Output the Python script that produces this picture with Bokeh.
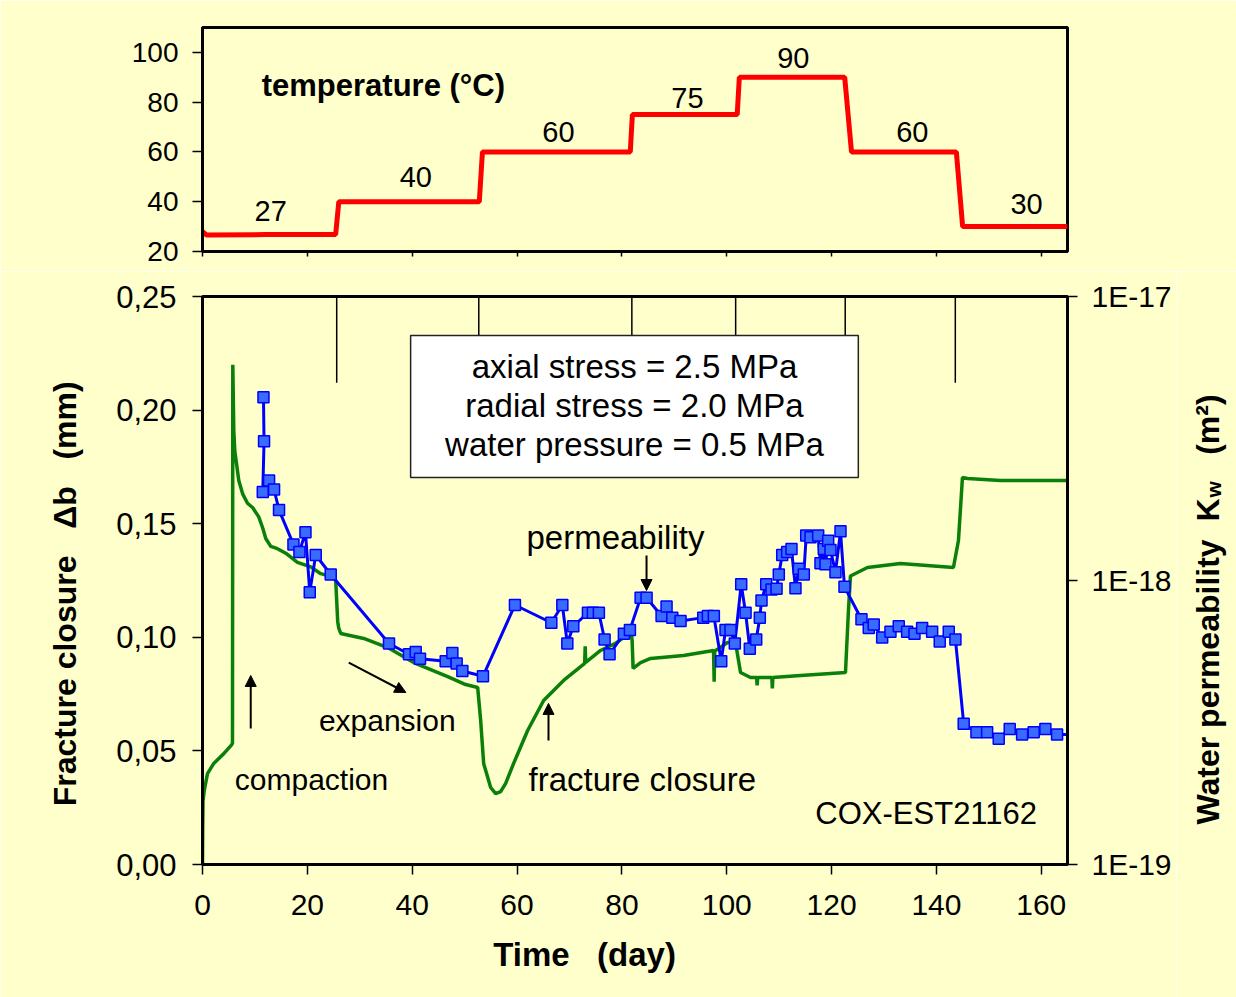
import math
from bokeh.plotting import figure
from bokeh.layouts import column, row
from bokeh.models import (Range1d, LogScale, LogAxis, FixedTicker, CustomJSTickFormatter,
                          Label, Arrow, NormalHead, BoxAnnotation)
from bokeh.embed import file_html
from bokeh.resources import INLINE

# ---------------- data ----------------
# temperature history (day, deg C)
temp_day = [0, 0.8, 12, 25.4, 26.0, 52.8, 53.4, 81.6, 82.0, 102.0, 102.4, 122.5, 123.8, 143.8, 145.0, 165]
temp_c = [28, 26.6, 26.8, 26.8, 40, 40, 60, 60, 75, 75, 90, 90, 60, 60, 30, 30]
temp_labels = ["27", "40", "60", "75", "90", "60", "30"]
temp_change_days = [25.6, 52.7, 81.9, 101.7, 122.6, 143.6]

# fracture closure (day, mm)
closure_day = [0, 0.04, 0.1, 0.34, 0.95, 2.15, 4.06, 5.59, 5.72, 5.78, 5.97, 6.16, 6.92, 7.68, 8.58,
               9.59, 10.73, 11.50, 12.07, 13.02, 14.30, 15.88, 18.11, 20.65, 22.55, 24.46, 25.41,
               25.79, 25.99, 26.37, 30.75, 35.33, 40.28, 46.77, 50.20, 52.49, 53.06, 53.63, 54.97,
               55.92, 56.87, 57.83, 59.35, 62.02, 65.07, 68.88, 72.9, 73.0, 73.1, 75.93, 78.79,
               80.32, 81.65, 81.95, 82.14, 83.57, 85.47, 91.76, 97.48, 97.6, 97.7, 98.43, 100.15,
               101.67, 102.63, 104.53, 105.7, 105.8, 105.9, 108.6, 108.7, 108.8, 114.07, 122.65,
               123.22, 123.60, 126.84, 133.13, 143.24, 144.20, 144.96, 145.92, 152.21, 165]
closure_mm = [0, 0.015, 0.028, 0.0326, 0.040, 0.0445, 0.0488, 0.0528, 0.0535, 0.220, 0.191, 0.182,
              0.169, 0.163, 0.159, 0.157, 0.153, 0.148, 0.1435, 0.140, 0.139, 0.137, 0.133, 0.131,
              0.128, 0.1268, 0.125, 0.107, 0.104, 0.1017, 0.0995, 0.0955, 0.0889, 0.0827, 0.0792,
              0.0779, 0.0634, 0.0445, 0.0339, 0.0312, 0.0321, 0.0357, 0.0445, 0.059, 0.0722, 0.081,
              0.0885, 0.096, 0.089, 0.0942, 0.0973, 0.0999, 0.105, 0.0986, 0.0863, 0.0889, 0.0907,
              0.092, 0.0942, 0.0805, 0.094, 0.095, 0.0977, 0.0977, 0.0845, 0.0823, 0.0823, 0.0788,
              0.0823, 0.0823, 0.0775, 0.0823, 0.0832, 0.0845, 0.112, 0.127, 0.1307, 0.1325, 0.1307,
              0.1426, 0.1703, 0.1699, 0.169, 0.169]

# water permeability (day, K in units of 1e-18 m2)
perm_day = [11.63, 11.74, 11.50, 12.70, 13.65, 14.60, 17.35, 18.49, 19.64, 20.46, 21.60, 24.46,
            35.58, 39.39, 40.67, 41.49, 46.39, 47.66, 48.48, 49.57, 53.50, 59.60, 66.54, 68.64,
            69.59, 70.73, 73.52, 74.47, 75.61, 76.70, 77.65, 80.38, 81.53, 83.57, 84.71, 87.57,
            88.52, 89.61, 91.19, 95.52, 96.40, 97.54, 98.95, 99.77, 100.72, 101.54, 102.76, 103.59,
            104.40, 105.62, 106.31, 106.63, 107.53, 108.54, 109.50, 109.93, 110.58, 111.53, 112.35,
            113.11, 113.75, 114.70, 115.16, 115.98, 117.44, 117.88, 118.51, 118.84, 119.35, 119.79,
            120.74, 121.70, 122.46, 125.70, 127.09, 128.04, 129.65, 131.23, 132.81, 134.41, 135.81,
            137.27, 139.18, 140.63, 142.35, 143.62, 145.20, 147.63, 149.67, 151.88, 153.98, 156.34,
            158.55, 160.78, 163.01, 166.0]
perm_e18 = [4.42, 3.09, 2.05, 2.25, 2.09, 1.77, 1.34, 1.26, 1.48, 0.91, 1.23, 1.05,
            0.60, 0.55, 0.56, 0.53, 0.52, 0.555, 0.51, 0.48, 0.46, 0.82, 0.71, 0.82,
            0.60, 0.69, 0.77, 0.77, 0.77, 0.62, 0.55, 0.65, 0.67, 0.87, 0.87, 0.75,
            0.81, 0.74, 0.72, 0.74, 0.75, 0.75, 0.52, 0.67, 0.67, 0.60, 0.97, 0.77,
            0.575, 0.62, 0.74, 0.85, 0.97, 0.93, 0.935, 1.05, 1.23, 1.26, 1.29,
            0.94, 1.10, 1.05, 1.44, 1.42, 1.44, 1.15, 1.29, 1.14, 1.38, 1.28,
            1.07, 1.49, 0.95, 0.73, 0.68, 0.70, 0.63, 0.66, 0.69, 0.66, 0.65,
            0.68, 0.66, 0.61, 0.66, 0.62, 0.313, 0.292, 0.292, 0.277, 0.300, 0.287,
            0.292, 0.300, 0.287, 0.287]
perm = [v * 1e-18 for v in perm_e18]

x_ticks = [0, 20, 40, 60, 80, 100, 120, 140, 160]

# ---------------- style ----------------
BG = "#FFFFCC"
FONT = "Liberation Sans"
NB = "\u00a0"


def style_axis(ax, out=10, standoff=15, size="28px", label_size="32px"):
    ax.major_label_text_font = FONT
    ax.major_label_text_font_size = size
    ax.major_label_text_color = "black"
    ax.major_label_standoff = standoff
    ax.axis_line_width = 3
    ax.axis_line_color = "black"
    ax.major_tick_line_width = 1.5
    ax.major_tick_line_color = "black"
    ax.major_tick_in = 0
    ax.major_tick_out = out
    ax.minor_tick_line_color = None
    ax.axis_label_text_font = FONT
    ax.axis_label_text_font_style = "bold"
    ax.axis_label_text_font_size = label_size
    ax.axis_label_text_color = "black"


# ---------------- top panel: temperature ----------------
top = figure(frame_width=865, frame_height=224, min_border_left=202, min_border_right=169,
             min_border_top=27, min_border_bottom=20,
             x_range=Range1d(0, 165), y_range=Range1d(20, 110),
             output_backend="svg", toolbar_location=None,
             background_fill_color=BG, border_fill_color=BG,
             outline_line_color="black", outline_line_width=3)
top.grid.visible = False
top.xaxis.ticker = FixedTicker(ticks=x_ticks)
style_axis(top.xaxis[0], out=5, standoff=0, size="1px")
top.xaxis.major_label_text_color = None
top.yaxis.ticker = FixedTicker(ticks=[20, 40, 60, 80, 100])
style_axis(top.yaxis[0], out=10, standoff=14)

top.line(temp_day, temp_c, line_color="#FF0000", line_width=5)

lab_x = [13.0, 40.7, 67.9, 92.5, 112.7, 135.4, 157.2]
lab_y = [36.4, 50.0, 68.1, 81.8, 97.9, 68.1, 39.2]
for t, lx, ly in zip(temp_labels, lab_x, lab_y):
    top.add_layout(Label(x=lx, y=ly, text=t, text_align="center", text_baseline="middle",
                         text_font=FONT, text_font_size="29px", text_color="black"))
top.add_layout(Label(x=11.3, y=86.5, text="temperature (°C)", text_align="left",
                     text_baseline="middle", text_font=FONT, text_font_size="31px",
                     text_font_style="bold", text_color="black"))

# ---------------- bottom panel ----------------
p = figure(frame_width=865, frame_height=568, min_border_left=202, min_border_right=109,
           min_border_top=25, min_border_bottom=133,
           x_range=Range1d(0, 165), y_range=Range1d(0, 0.25),
           output_backend="svg", toolbar_location=None,
           background_fill_color=BG, border_fill_color=BG,
           outline_line_color="black", outline_line_width=3)
p.grid.visible = False
p.xaxis.ticker = FixedTicker(ticks=x_ticks)
style_axis(p.xaxis[0], out=10, standoff=20, size="30px", label_size="33px")
p.xaxis.axis_label = "Time" + NB * 3 + "(day)" + NB * 11
p.xaxis.axis_label_standoff = 18

p.yaxis.ticker = FixedTicker(ticks=[0, 0.05, 0.10, 0.15, 0.20, 0.25])
p.yaxis.formatter = CustomJSTickFormatter(code="return tick.toFixed(2).replace('.', ',');")
style_axis(p.yaxis[0], out=10, standoff=16, size="31px")
p.yaxis.axis_label = "Fracture closure" + NB * 3 + "\u0394b" + NB * 3 + "(mm)" + NB * 3
p.yaxis.axis_label_standoff = 30

p.extra_y_ranges = {"perm": Range1d(1e-19, 1e-17)}
p.extra_y_scales = {"perm": LogScale()}
rax = LogAxis(y_range_name="perm", ticker=FixedTicker(ticks=[1e-19, 1e-18, 1e-17]),
              formatter=CustomJSTickFormatter(code="return '1E' + Math.round(Math.log10(tick));"))
style_axis(rax, out=10, standoff=14, size="30px")
p.add_layout(rax, "right")

# markers of temperature changes
n = len(temp_change_days)
p.segment(x0=temp_change_days, y0=[0.25] * n, x1=temp_change_days, y1=[0.212] * n,
          line_color="black", line_width=1.5)

p.line(closure_day, closure_mm, line_color="#0A800A", line_width=3.5)
p.line(perm_day, perm, line_color="#0000FF", line_width=3, y_range_name="perm")
p.scatter(perm_day, perm, marker="square", size=11, fill_color="#3A6BFF",
          line_color="#0000FF", line_width=1.5, y_range_name="perm")

# condition box
p.add_layout(BoxAnnotation(left=39.7, right=125.1, bottom=0.1703, top=0.2328,
                           fill_color="white", fill_alpha=1.0,
                           line_color="#222222", line_alpha=1.0, line_width=1.5))
for txt, yy in [("axial stress = 2.5 MPa", 0.2192),
                ("radial stress = 2.0 MPa", 0.2020),
                ("water pressure = 0.5 MPa", 0.1849)]:
    p.add_layout(Label(x=82.4, y=yy, text=txt, text_align="center", text_baseline="middle",
                       text_font=FONT, text_font_size="33px", text_color="black"))

# annotations
for txt, lx, ly, fs in [("compaction", 6.16, 0.0374, "30px"), ("expansion", 22.2, 0.0634, "30px"),
                        ("fracture closure", 62.2, 0.0374, "33px"),
                        ("permeability", 61.8, 0.1439, "33px"),
                        ("COX-EST21162", 116.9, 0.0224, "31px")]:
    p.add_layout(Label(x=lx, y=ly, text=txt, text_align="left", text_baseline="middle",
                       text_font=FONT, text_font_size=fs, text_color="black"))

for xs, ys, xe, ye in [(9.2, 0.0599, 9.2, 0.0832), (27.9, 0.0889, 38.8, 0.0757),
                       (66.0, 0.0546, 66.0, 0.0709), (84.7, 0.136, 84.7, 0.1206)]:
    p.add_layout(Arrow(end=NormalHead(size=11, fill_color="black", line_color="black", line_width=1),
                       x_start=xs, y_start=ys, x_end=xe, y_end=ye,
                       line_color="black", line_width=2))

# ---------------- strip holding the right-hand axis title (reads bottom to top) ----------------
lab = figure(frame_width=60, frame_height=568, min_border_left=0, min_border_right=0,
             min_border_top=25, min_border_bottom=133,
             x_range=Range1d(0, 60), y_range=Range1d(0, 568),
             x_axis_type=None, y_axis_type=None,
             output_backend="svg", toolbar_location=None,
             background_fill_color=BG, border_fill_color=BG, outline_line_color=None)
lab.grid.visible = False
title_parts = [("Water permeability" + NB * 2 + "K", 31, 40, "32px"),
               ("w", 37, 367, "21px"),
               (NB * 3 + "(m\u00b2)", 31, 383, "32px")]
for txt, tx, ty, fs in title_parts:
    lab.add_layout(Label(x=tx, y=ty, angle=math.pi / 2, angle_units="rad", text=txt,
                         text_align="left", text_baseline="middle", text_font=FONT,
                         text_font_size=fs, text_font_style="bold", text_color="black"))

layout = column(top, row(p, lab, spacing=0), spacing=0)
open("out.html", "w").write(file_html(layout, INLINE))
